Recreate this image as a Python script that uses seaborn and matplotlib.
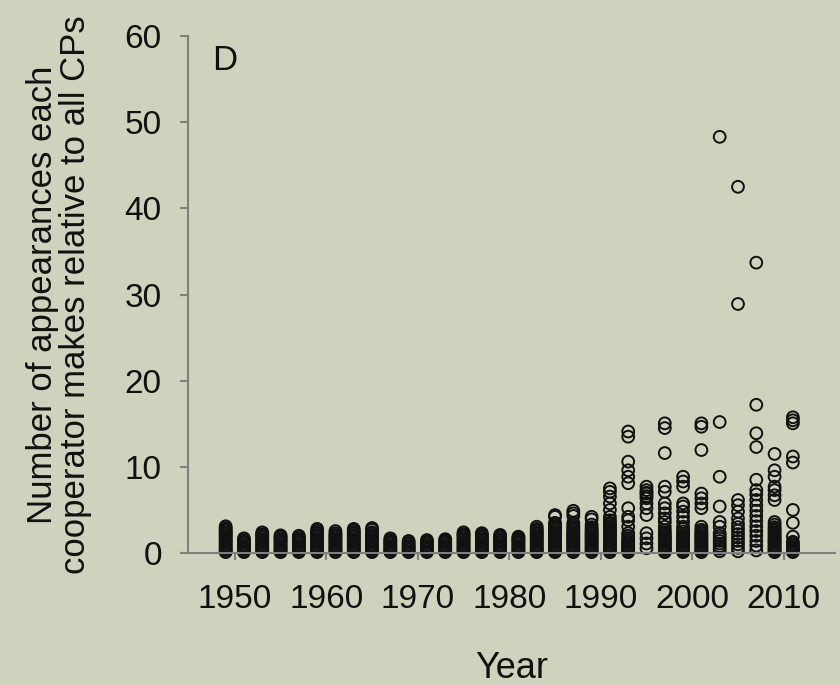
import matplotlib
matplotlib.use("Agg")
import matplotlib.pyplot as plt
import seaborn as sns
import pandas as pd

# Appearances of each cooperator relative to all CPs, by survey year
y1949 = [0.1, 0.2, 0.4, 0.5, 0.7, 0.8, 1.0, 1.2, 1.3, 1.5, 1.6, 1.8, 2.0, 2.1, 2.3, 2.4, 2.6, 2.7, 2.9, 3.1]
y1951 = [0.1, 0.2, 0.4, 0.5, 0.7, 0.8, 1.0, 1.2, 1.3, 1.5, 1.7]
y1953 = [0.1, 0.2, 0.4, 0.5, 0.7, 0.8, 1.0, 1.2, 1.3, 1.5, 1.6, 1.8, 2.0, 2.1, 2.2, 2.4]
y1955 = [0.1, 0.2, 0.4, 0.5, 0.7, 0.8, 1.0, 1.2, 1.3, 1.5, 1.6, 1.8, 1.9, 2.05]
y1957 = [0.1, 0.2, 0.4, 0.5, 0.7, 0.8, 1.0, 1.2, 1.3, 1.5, 1.6, 1.8, 2.0]
y1959 = [0.1, 0.2, 0.4, 0.5, 0.7, 0.8, 1.0, 1.2, 1.3, 1.5, 1.6, 1.8, 2.0, 2.1, 2.3, 2.4, 2.6, 2.8]
y1961 = [0.1, 0.2, 0.4, 0.5, 0.7, 0.8, 1.0, 1.2, 1.3, 1.5, 1.6, 1.8, 2.0, 2.1, 2.3, 2.55]
y1963 = [0.1, 0.2, 0.4, 0.5, 0.7, 0.8, 1.0, 1.2, 1.3, 1.5, 1.6, 1.8, 2.0, 2.1, 2.3, 2.4, 2.6, 2.8]
y1965 = [0.1, 0.2, 0.4, 0.5, 0.7, 0.8, 1.0, 1.2, 1.3, 1.5, 1.6, 1.8, 2.0, 2.1, 2.3, 2.4, 2.7, 2.9]
y1967 = [0.1, 0.2, 0.4, 0.5, 0.7, 0.8, 1.0, 1.2, 1.3, 1.5, 1.7]
y1969 = [0.1, 0.2, 0.4, 0.5, 0.7, 0.8, 1.0, 1.2, 1.4]
y1971 = [0.1, 0.2, 0.4, 0.5, 0.7, 0.8, 1.0, 1.2, 1.3, 1.5]
y1973 = [0.1, 0.2, 0.4, 0.5, 0.7, 0.8, 1.0, 1.2, 1.3, 1.45, 1.6]
y1975 = [0.1, 0.2, 0.4, 0.5, 0.7, 0.8, 1.0, 1.2, 1.3, 1.5, 1.6, 1.8, 2.0, 2.1, 2.2, 2.4]
y1977 = [0.1, 0.2, 0.4, 0.5, 0.7, 0.8, 1.0, 1.2, 1.3, 1.5, 1.6, 1.8, 2.0, 2.1, 2.3]
y1979 = [0.1, 0.2, 0.4, 0.5, 0.7, 0.8, 1.0, 1.2, 1.3, 1.5, 1.6, 1.8, 1.95, 2.1]
y1981 = [0.1, 0.2, 0.4, 0.5, 0.7, 0.8, 1.0, 1.2, 1.3, 1.5, 1.6, 1.75, 1.9]
y1983 = [0.1, 0.2, 0.4, 0.5, 0.7, 0.8, 1.0, 1.2, 1.3, 1.5, 1.6, 1.8, 2.0, 2.1, 2.3, 2.4, 2.6, 2.8, 3.05]
y1985 = [0.1, 0.2, 0.4, 0.5, 0.7, 0.8, 1.0, 1.2, 1.3, 1.5, 1.6, 1.8, 2.0, 2.1, 2.3, 2.4, 2.6, 2.8, 2.9,
         3.1, 3.3, 3.5, 4.2, 4.4]
y1987 = [0.1, 0.2, 0.4, 0.5, 0.7, 0.8, 1.0, 1.2, 1.3, 1.5, 1.6, 1.8, 2.0, 2.1, 2.3, 2.4, 2.6, 2.8, 3.0,
         3.2, 3.5, 4.3, 4.6, 4.9]
y1989 = [0.1, 0.2, 0.4, 0.5, 0.7, 0.8, 1.0, 1.2, 1.3, 1.5, 1.6, 1.8, 2.0, 2.1, 2.3, 2.4, 2.6, 2.8, 3.0,
         3.3, 3.9, 4.2]
y1991 = [0.1, 0.2, 0.4, 0.5, 0.7, 0.8, 1.0, 1.2, 1.3, 1.5, 1.6, 1.8, 2.0, 2.1, 2.3, 2.4, 2.6, 2.8, 2.9,
         3.1, 3.3, 3.5, 3.8, 4.2, 5.0, 5.75, 6.55, 7.1, 7.5]
y1993 = [0.1, 0.2, 0.4, 0.5, 0.7, 0.8, 1.0, 1.2, 1.3, 1.5, 1.7, 2.0, 2.3, 3.05, 3.8, 4.2, 5.2,
         8.1, 8.85, 9.6, 10.6, 13.5, 14.1]
y1995 = [0.55, 1.1, 1.7, 2.3, 4.4, 5.2, 5.75, 6.35, 6.6, 6.9, 7.0, 7.3, 7.7]
y1997 = [0.1, 0.2, 0.4, 0.5, 0.7, 0.8, 1.0, 1.2, 1.3, 1.5, 1.6, 1.8, 2.0, 2.2, 2.4, 2.65,
         3.05, 3.6, 4.0, 4.6, 5.2, 5.75, 7.1, 7.7, 11.6, 14.5, 15.05]
y1999 = [0.1, 0.2, 0.4, 0.5, 0.7, 0.8, 1.0, 1.2, 1.3, 1.5, 1.6, 1.8, 2.0, 2.2, 2.5, 2.8, 3.05,
         3.6, 4.2, 4.8, 5.4, 5.75, 7.7, 8.3, 8.85]
y2001 = [0.1, 0.2, 0.4, 0.5, 0.7, 0.8, 1.0, 1.2, 1.3, 1.5, 1.6, 1.8, 2.0, 2.1, 2.3, 2.5, 2.7, 3.05,
         5.2, 5.75, 6.35, 6.9, 11.95, 14.65, 15.05]
y2003 = [0.2, 0.5, 0.8, 1.1, 1.4, 1.7, 2.0, 2.3, 3.05, 3.6, 5.4, 8.85, 15.2, 48.3]
y2005 = [0.2, 0.6, 1.0, 1.4, 1.8, 2.2, 2.6, 3.0, 3.4, 4.0, 4.8, 5.55, 6.15, 28.9, 42.5]
y2007 = [0.3, 0.85, 1.4, 2.0, 2.55, 3.1, 3.7, 4.3, 4.9, 5.5, 6.15, 6.8, 7.3, 8.5, 12.3, 13.9, 17.2, 33.7]
y2009 = [0.1, 0.2, 0.4, 0.5, 0.7, 0.8, 1.0, 1.2, 1.3, 1.5, 1.6, 1.8, 2.0, 2.2, 2.4, 2.6, 2.8, 3.0,
         3.3, 3.6, 6.15, 6.7, 7.3, 7.7, 8.85, 9.6, 11.5]
y2011 = [0.1, 0.2, 0.3, 0.5, 0.7, 0.9, 1.1, 1.3, 1.9, 3.5, 5.0, 10.5, 11.2, 15.05, 15.4, 15.75]

years = list(range(1949, 2012, 2))
values = [y1949, y1951, y1953, y1955, y1957, y1959, y1961, y1963, y1965, y1967,
          y1969, y1971, y1973, y1975, y1977, y1979, y1981, y1983, y1985, y1987,
          y1989, y1991, y1993, y1995, y1997, y1999, y2001, y2003, y2005, y2007,
          y2009, y2011]

x_ticks = [1950, 1960, 1970, 1980, 1990, 2000, 2010]
y_ticks = [0, 10, 20, 30, 40, 50, 60]

df = pd.DataFrame(
    [(yr, v) for yr, vals in zip(years, values) for v in vals],
    columns=["Year", "Appearances"],
)

bg = "#ced3bd"
axis_grey = "#808080"

sns.set_style("ticks", {"axes.facecolor": bg, "figure.facecolor": bg})
plt.rcParams["font.family"] = ["Liberation Sans", "DejaVu Sans"]

fig = plt.figure(figsize=(8.4, 6.85), dpi=100)
ax = fig.add_axes([0.224, 0.1927, 0.770, 0.7547])
ax.set_facecolor(bg)

sns.scatterplot(
    data=df, x="Year", y="Appearances", ax=ax,
    marker="o", s=72, facecolor="none", edgecolor="#111111",
    linewidth=1.4, clip_on=False, legend=False,
)

ax.set_xlim(1944.9, 2015.6)
ax.set_ylim(0, 60)
ax.set_xticks(x_ticks)
ax.set_yticks(y_ticks)

for side in ("top", "right"):
    ax.spines[side].set_visible(False)
for side in ("left", "bottom"):
    ax.spines[side].set_color(axis_grey)
    ax.spines[side].set_linewidth(1.5)

ax.tick_params(axis="y", direction="out", length=6, width=1.5, color=axis_grey,
               labelsize=24, pad=13, labelcolor="#111111")
ax.tick_params(axis="x", direction="out", length=5, width=1.5, color=axis_grey,
               labelsize=24, pad=17, labelcolor="#111111")

ax.set_xlabel("Year", fontsize=26, color="#111111", va="center")
ax.xaxis.set_label_coords(0.5, -0.224)
ax.set_ylabel("Number of appearances each\ncooperator makes relative to all CPs",
              fontsize=25, color="#111111", va="center", linespacing=1.0)
ax.yaxis.set_label_coords(-0.2, 0.5)

ax.text(0.037, 0.953, "D", transform=ax.transAxes, fontsize=25,
        ha="left", va="center", color="#111111")

fig.savefig("out.png", dpi=100, facecolor=bg)
